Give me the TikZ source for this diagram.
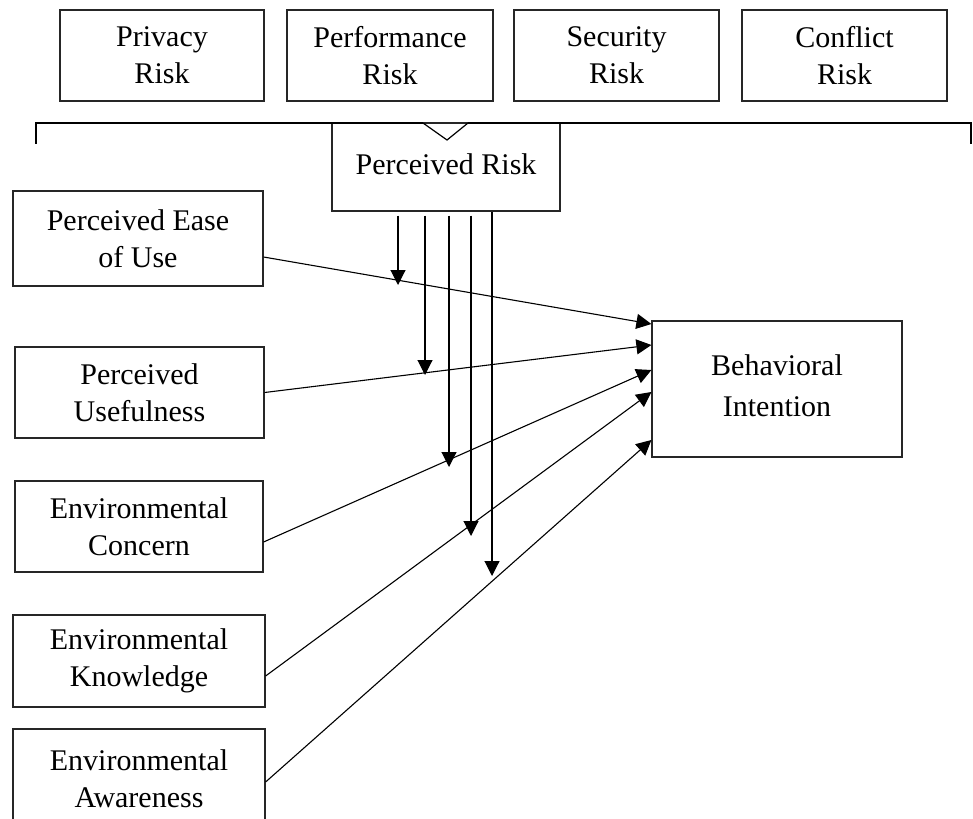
\documentclass[tikz,border=0pt]{standalone}
\usepackage{fontspec}
\setmainfont{Liberation Serif}
\usetikzlibrary{arrows.meta,calc}
\begin{document}
\begin{tikzpicture}[x=1pt,y=-1pt,
  box/.style={draw=black!85,line width=1.2pt,rectangle,inner sep=0pt,align=center,
    font=\fontsize{30}{37}\selectfont},
  arr/.style={line width=1.1pt,-{Triangle[length=15pt,width=15pt]}},
  brk/.style={line width=2.2pt}]
\useasboundingbox (0,0) rectangle (973,818);
% top risk boxes
\node[box,minimum width=204pt,minimum height=91pt] (priv) at (162,55.5) {Privacy\\Risk};
\node[box,minimum width=206pt,minimum height=91pt] (perf) at (390,55.5) {Performance\\Risk};
\node[box,minimum width=205pt,minimum height=91pt] (sec) at (616.5,55.5) {Security\\Risk};
\node[box,minimum width=205pt,minimum height=91pt] (conf) at (844.5,55.5) {Conflict\\Risk};
% perceived risk
\node[box,minimum width=228pt,minimum height=88pt] (pr) at (446,167) {};
\node[font=\fontsize{30}{37}\selectfont,inner sep=0pt] (prt) at (446,164) {Perceived Risk};
% bracket
\draw[brk] (36,144) -- (36,123) -- (423,123);
\draw[line width=1.2pt] (423,123) -- (447,140) -- (468,123);
\draw[brk] (468,123) -- (971,123) -- (971,144);
% left boxes
\node[box,minimum width=250pt,minimum height=95pt] (peou) at (138,238.5) {Perceived Ease\\of Use};
\node[box,minimum width=249pt,minimum height=91pt] (pu) at (139.5,392.5) {Perceived\\Usefulness};
\node[box,minimum width=248pt,minimum height=91pt] (ec) at (139,526.5) {Environmental\\Concern};
\node[box,minimum width=252pt,minimum height=92pt] (ek) at (139,661) {Environmental\\Knowledge};
\node[box,minimum width=252pt,minimum height=100pt] (ea) at (139,779) {Environmental\\Awareness};
% behavioral intention
\node[box,minimum width=250pt,minimum height=136pt] (bi) at (777,389) {};
\node[font=\fontsize{30}{41}\selectfont,align=center,inner sep=0pt] (bit) at (777,386) {Behavioral\\Intention};
% paths to BI
\draw[arr] ([yshift=-18.5pt]peou.east) -- ([yshift=65pt]bi.west);
\draw[arr] (pu.east) -- ([yshift=44pt]bi.west);
\draw[arr] ([yshift=-15.5pt]ec.east) -- ([yshift=19pt]bi.west);
\draw[arr] ([yshift=-15pt]ek.east) -- ([yshift=-3pt]bi.west);
\draw[arr] ([yshift=-3pt]ea.east) -- ([yshift=-51pt]bi.west);
% moderating arrows
\coordinate (t1) at (398,285);
\coordinate (t2) at (425,375);
\coordinate (t3) at (449,467);
\coordinate (t4) at (471,536);
\coordinate (t5) at (492,576);
\draw[arr] ([yshift=-4pt]t1 |- pr.south) -- (t1);
\draw[arr] ([yshift=-4pt]t2 |- pr.south) -- (t2);
\draw[arr] ([yshift=-4pt]t3 |- pr.south) -- (t3);
\draw[arr] ([yshift=-4pt]t4 |- pr.south) -- (t4);
\draw[arr] (t5 |- pr.south) -- (t5);
\end{tikzpicture}
\end{document}
